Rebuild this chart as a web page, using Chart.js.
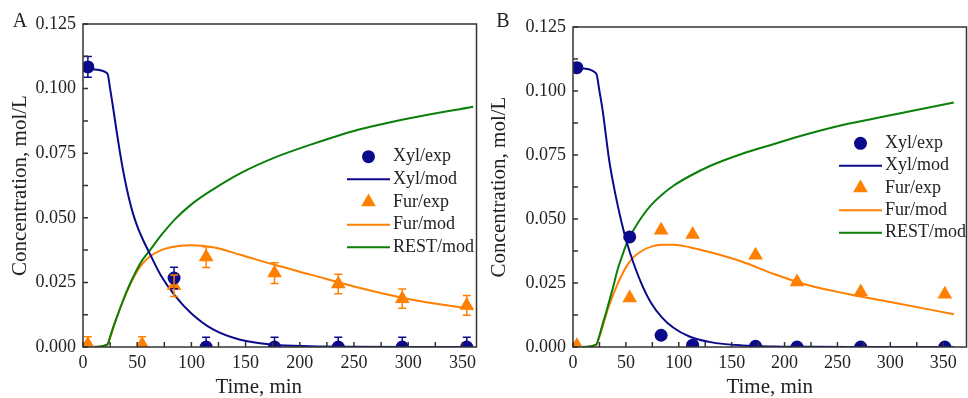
<!DOCTYPE html>
<html>
<head>
<meta charset="utf-8">
<script src="https://cdn.jsdelivr.net/npm/chart.js@4.4.0/dist/chart.umd.min.js"></script>
<style>
  html, body { margin: 0; padding: 0; background: #fff; overflow: hidden; }
  body { width: 968px; height: 398px; position: relative; }
  canvas { position: absolute; top: 0; }
  #chartA { left: 0; }
  #chartB { left: 485px; }
</style>
</head>
<body>
<canvas id="chartA" width="485" height="398"></canvas>
<canvas id="chartB" width="490" height="398"></canvas>
<script>
// ---- panel A: experiment (with error bars)
const xylTimeA = [4.5, 84, 113.6, 176.7, 235.5, 294.5, 354];
const xylExpA = [0.1084, 0.0267, 0, 0, 0, 0, 0];
const xylErrA = [0.004, 0.0042, 0.0038, 0.0038, 0.0038, 0.0038, 0.0038];
const furTimeA = [4.5, 54.5, 84, 113.6, 176.7, 235.5, 294.5, 354];
const furExpA = [0.001, 0.001, 0.0237, 0.0348, 0.0286, 0.0244, 0.0187, 0.0161];
const furErrA = [0.003, 0.003, 0.0042, 0.004, 0.004, 0.0038, 0.0037, 0.0038];

// ---- panel A: model curves
const modTimeA = [0, 10, 22.5, 25, 28, 31, 34, 37, 40, 43, 46, 50, 55, 62, 72, 85, 100, 120, 145, 175, 210, 250, 300, 360];
const xylModA = [0.1078, 0.1074, 0.1058, 0.1, 0.092, 0.0835, 0.0755, 0.0683, 0.062, 0.0565, 0.0518, 0.0468, 0.0418, 0.0358, 0.0276, 0.0198, 0.013, 0.0068, 0.0028, 0.0009, 0.0003, 0.0001, 0, 0];
const furModA = [0, 0, 0.0008, 0.0035, 0.0075, 0.0113, 0.0147, 0.0179, 0.021, 0.0238, 0.0263, 0.0293, 0.0323, 0.0351, 0.0375, 0.0389, 0.0394, 0.0386, 0.0357, 0.032, 0.028, 0.0234, 0.0186, 0.0146];
const restModA = [0, 0, 0.001, 0.004, 0.0078, 0.0113, 0.0147, 0.018, 0.0212, 0.0241, 0.0268, 0.0302, 0.0338, 0.0376, 0.0432, 0.0495, 0.0552, 0.061, 0.0672, 0.073, 0.0783, 0.0836, 0.0884, 0.093];

// ---- panel B: experiment
const expTimeB = [3.7, 53.6, 83.3, 113.1, 172.6, 211.8, 272, 351.5];
const xylExpB = [0.1091, 0.043, 0.0046, 0.0007, 0.0003, 0, 0, 0];
const furExpB = [0.0005, 0.0191, 0.0456, 0.0439, 0.0358, 0.0254, 0.0215, 0.0206];

// ---- panel B: model curves
const modTimeB = [0, 10, 22, 25, 28, 31, 34, 38, 42, 46, 51, 57, 65, 74, 84, 95, 110, 130, 160, 190, 220, 260, 300, 360];
const xylModB = [0.1094, 0.1088, 0.1068, 0.1, 0.0925, 0.083, 0.0735, 0.064, 0.0558, 0.0485, 0.0406, 0.033, 0.0245, 0.0171, 0.0116, 0.0075, 0.0041, 0.0019, 0.0006, 0.0002, 0.0001, 0, 0, 0];
const furModB = [0, 0, 0.0008, 0.004, 0.008, 0.0122, 0.016, 0.0205, 0.0245, 0.028, 0.0318, 0.035, 0.0375, 0.0392, 0.0399, 0.0399, 0.039, 0.037, 0.0333, 0.0285, 0.0244, 0.0207, 0.0176, 0.0128];
const restModB = [0, 0, 0.001, 0.0045, 0.009, 0.013, 0.0175, 0.0235, 0.03, 0.035, 0.0408, 0.0455, 0.0508, 0.0555, 0.0595, 0.063, 0.0667, 0.0708, 0.0755, 0.0793, 0.083, 0.0872, 0.0905, 0.0955];

const BLUE = '#0a0a8a';
const ORANGE = '#ff8000';
const GREEN = '#0b7f0b';
const INK = '#222';
const SERIF = '"Liberation Serif", "Times New Roman", serif';

Chart.defaults.font.family = SERIF;
Chart.defaults.font.size = 18;
Chart.defaults.color = INK;

const pts = (xs, ys) => xs.map((x, i) => ({x: x, y: ys[i]}));

// error bars, read from dataset.errors
const errorBars = {
  id: 'errorBars',
  afterDatasetsDraw(chart) {
    const {ctx, chartArea: a, scales: {x, y}} = chart;
    ctx.save();
    ctx.beginPath();
    ctx.rect(a.left, a.top, a.right - a.left, a.bottom - a.top);
    ctx.clip();
    ctx.lineWidth = 1.5;
    chart.data.datasets.forEach(ds => {
      if (!ds.errors) return;
      ctx.strokeStyle = ds.borderColor;
      ds.data.forEach((p, i) => {
        const e = ds.errors[i];
        const px = x.getPixelForValue(p.x);
        const top = y.getPixelForValue(p.y + e);
        const bot = y.getPixelForValue(p.y - e);
        ctx.beginPath();
        ctx.moveTo(px, top); ctx.lineTo(px, bot);
        ctx.moveTo(px - 4, top); ctx.lineTo(px + 4, top);
        ctx.moveTo(px - 4, bot); ctx.lineTo(px + 4, bot);
        ctx.stroke();
      });
    });
    ctx.restore();
  }
};

// box around plot + inward ticks + panel letter
const frame = {
  id: 'frame',
  afterDraw(chart, args, opts) {
    const {ctx, chartArea: a, scales: {x, y}} = chart;
    ctx.save();
    ctx.strokeStyle = '#333';
    ctx.lineWidth = 1.5;
    ctx.strokeRect(a.left, a.top, a.right - a.left, a.bottom - a.top);
    ctx.beginPath();
    x.ticks.forEach(t => {
      const px = x.getPixelForValue(t.value);
      ctx.moveTo(px, a.bottom); ctx.lineTo(px, a.bottom - 5);
    });
    y.ticks.forEach(t => {
      const py = y.getPixelForValue(t.value);
      ctx.moveTo(a.left, py); ctx.lineTo(a.left + 5, py);
    });
    ctx.stroke();
    ctx.fillStyle = INK;
    ctx.font = '20px ' + SERIF;
    ctx.textAlign = 'center';
    ctx.textBaseline = 'middle';
    ctx.fillText(opts.letter, opts.letterX, 22);
    ctx.restore();
  }
};

// legend drawn inside the plot
const innerLegend = {
  id: 'innerLegend',
  afterDraw(chart, args, opts) {
    const ctx = chart.ctx;
    ctx.save();
    ctx.font = '18px ' + SERIF;
    ctx.textBaseline = 'middle';
    ctx.textAlign = 'left';
    chart.data.datasets.forEach((ds, i) => {
      const y = opts.y + i * opts.rowH;
      const cx = (opts.x1 + opts.x2) / 2;
      if (ds.showLine) {
        ctx.strokeStyle = ds.borderColor;
        ctx.lineWidth = 2;
        ctx.beginPath();
        ctx.moveTo(opts.x1, y); ctx.lineTo(opts.x2, y);
        ctx.stroke();
      } else if (ds.pointStyle === 'triangle') {
        const r = ds.pointRadius;
        ctx.fillStyle = ds.backgroundColor;
        ctx.beginPath();
        ctx.moveTo(cx, y - r);
        ctx.lineTo(cx + r * 0.866, y + r / 2);
        ctx.lineTo(cx - r * 0.866, y + r / 2);
        ctx.closePath();
        ctx.fill();
      } else {
        ctx.fillStyle = ds.backgroundColor;
        ctx.beginPath();
        ctx.arc(cx, y, ds.pointRadius, 0, Math.PI * 2);
        ctx.fill();
      }
      ctx.fillStyle = INK;
      ctx.fillText(ds.label, opts.textX, y);
    });
    ctx.restore();
  }
};

function makePanel(id, p) {
  const datasets = [
    {label: 'Xyl/exp', data: pts(p.xylT, p.xylExp), errors: p.xylErr, pointStyle: 'circle',
     pointRadius: 6.5, backgroundColor: BLUE, borderColor: BLUE, borderWidth: 0, showLine: false, order: 0, clip: 0},
    {label: 'Xyl/mod', data: pts(p.modT, p.xylMod), borderColor: BLUE, borderWidth: 2, pointRadius: 0,
     showLine: true, cubicInterpolationMode: 'monotone', order: 2, clip: 0},
    {label: 'Fur/exp', data: pts(p.furT, p.furExp), errors: p.furErr, pointStyle: 'triangle',
     pointRadius: 8.5, backgroundColor: ORANGE, borderColor: ORANGE, borderWidth: 0, showLine: false, order: 1, clip: 0},
    {label: 'Fur/mod', data: pts(p.modT, p.furMod), borderColor: ORANGE, borderWidth: 2, pointRadius: 0,
     showLine: true, cubicInterpolationMode: 'monotone', order: 4, clip: 0},
    {label: 'REST/mod', data: pts(p.modT, p.restMod), borderColor: GREEN, borderWidth: 2, pointRadius: 0,
     showLine: true, cubicInterpolationMode: 'monotone', order: 3, clip: 0}
  ];
  return new Chart(document.getElementById(id), {
    type: 'scatter',
    data: {datasets: datasets},
    options: {
      responsive: false,
      animation: false,
      layout: {padding: {top: p.top, right: p.right, left: 0, bottom: 0}},
      plugins: {
        legend: {display: false},
        tooltip: {enabled: false},
        frame: {letter: p.letter, letterX: p.letterX},
        innerLegend: p.legend
      },
      scales: {
        x: {
          type: 'linear', min: 0, max: p.xMax,
          grid: {display: false, drawTicks: false}, border: {display: false},
          ticks: {stepSize: 25, includeBounds: false, autoSkip: false, maxRotation: 0, padding: 5,
                  callback: v => (v % 50 === 0 ? v : '')},
          title: {display: true, text: p.xTitle, font: {size: 21}, padding: {top: 0, bottom: -2}},
          afterFit: s => { s.height = 51; }
        },
        y: {
          min: 0, max: 0.125,
          grid: {display: false, drawTicks: false}, border: {display: false},
          ticks: {stepSize: 0.0125, padding: 7, autoSkip: false,
                  callback: v => (Math.round(v * 10000) % 250 === 0 ? v.toFixed(3) : '')},
          title: {display: true, text: 'Concentration, mol/L', font: {size: 21}, padding: {top: p.yTitlePad, bottom: 0}},
          afterFit: s => { s.width = p.yWidth; }
        }
      }
    },
    plugins: [errorBars, frame, innerLegend]
  });
}

makePanel('chartA', {
  xylT: xylTimeA, xylExp: xylExpA, xylErr: xylErrA,
  furT: furTimeA, furExp: furExpA, furErr: furErrA,
  modT: modTimeA, xylMod: xylModA, furMod: furModA, restMod: restModA,
  top: 24, right: 2, xMax: 363, yWidth: 83, yTitlePad: 8,
  xTitle: 'Time, min\u00a0\u00a0\u00a0\u00a0\u00a0\u00a0\u00a0\u00a0',
  letter: 'A', letterX: 20,
  legend: {x1: 347, x2: 390, textX: 393, y: 156.7, rowH: 22.65}
});

makePanel('chartB', {
  xylT: expTimeB, xylExp: xylExpB,
  furT: expTimeB, furExp: furExpB,
  modT: modTimeB, xylMod: xylModB, furMod: furModB, restMod: restModB,
  top: 27, right: 0, xMax: 372, yWidth: 88, yTitlePad: 2,
  xTitle: 'Time, min',
  letter: 'B', letterX: 18,
  legend: {x1: 354, x2: 397, textX: 400, y: 143.3, rowH: 22.35}
});
</script>
</body>
</html>
